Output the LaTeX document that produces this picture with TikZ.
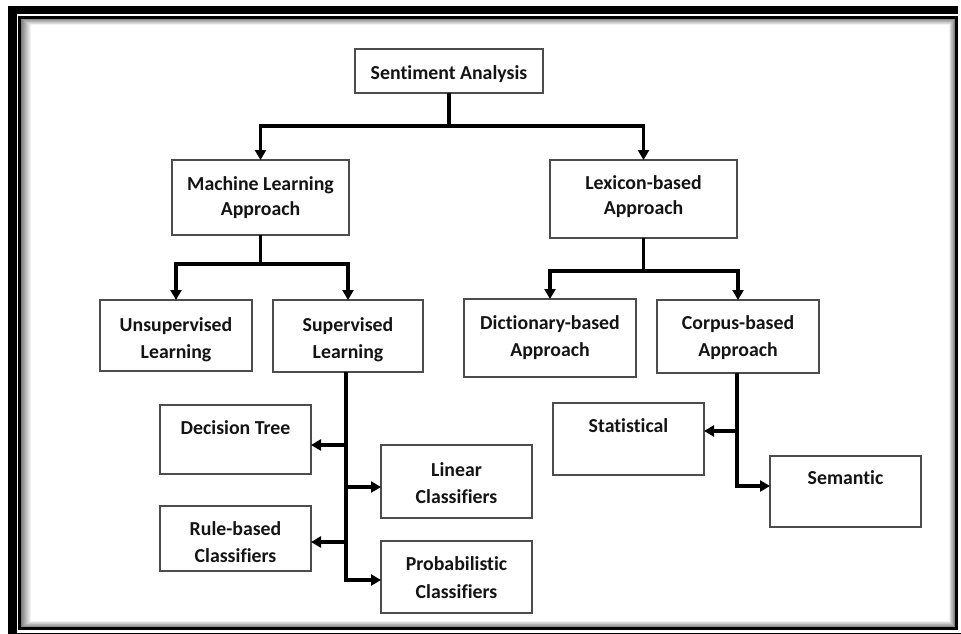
\documentclass[tikz,border=0pt]{standalone}
\usepackage{fontspec}
\setmainfont{Carlito}[Ligatures=NoCommon]
\usetikzlibrary{arrows.meta}
\begin{document}
\begin{tikzpicture}[x=1pt,y=-1pt,
  box/.style={draw=black!70, line width=1.5pt, fill=white, inner sep=0pt, outer sep=0pt},
  txt/.style={inner sep=0pt, anchor=base, text=black!92, font=\fontsize{19.8}{25}\selectfont\bfseries},
  conn/.style={line width=3.2pt, black, line join=miter},
  arr/.style={conn, -{Triangle[length=10pt,width=11pt]}}]
\useasboundingbox (0,0) rectangle (961,634);
% frame
\fill[white] (0,0) rectangle (961,634);
\fill[black] (8,6) rectangle (958,14);
\fill[black] (8,6) rectangle (17,634);
\fill[black] (8,632.5) rectangle (961,634);
\foreach \i in {1,...,12}{
  \pgfmathsetmacro{\g}{max(0,55-5*\i)}
  \draw[black!\g, line width=1.1pt] (21+\i,18+0.7*\i) rectangle (955-0.6*\i,628-0.7*\i);
}
\draw[black, line width=3pt] (19.5,17.5) rectangle (956.5,628.5);
\fill[black] (956,16) rectangle (958,630);
% boxes
\node[box, minimum width=188pt, minimum height=44pt] (sa) at (449,71) {};
\node[box, minimum width=177pt, minimum height=75pt] (ml) at (260.5,197.5) {};
\node[box, minimum width=187pt, minimum height=78pt] (lex) at (643.5,199) {};
\node[box, minimum width=152pt, minimum height=71pt] (uns) at (176,335.5) {};
\node[box, minimum width=150pt, minimum height=72pt] (sup) at (348,336) {};
\node[box, minimum width=172pt, minimum height=78pt] (dict) at (550,338) {};
\node[box, minimum width=162pt, minimum height=73pt] (corp) at (738,336.5) {};
\node[box, minimum width=151pt, minimum height=69pt] (dt) at (235.5,439.5) {};
\node[box, minimum width=151pt, minimum height=73pt] (lin) at (456.5,481.5) {};
\node[box, minimum width=151pt, minimum height=65pt] (rule) at (235.5,538.5) {};
\node[box, minimum width=151pt, minimum height=72pt] (prob) at (456.5,577) {};
\node[box, minimum width=151pt, minimum height=72pt] (stat) at (628.5,439) {};
\node[box, minimum width=151pt, minimum height=71pt] (sem) at (845.5,491.5) {};
% texts
\node[txt] (tsa) at (449,80) {Sentiment Analysis};
\node[txt] (tml) at (260.5,190) {\begin{tabular}[t]{@{}c@{}}Machine Learning\\Approach\end{tabular}};
\node[txt] (tlex) at (643.5,189) {\begin{tabular}[t]{@{}c@{}}Lexicon-based\\Approach\end{tabular}};
\node[txt] (tuns) at (176,331) {\begin{tabular}[t]{@{}c@{}}Unsupervised\\[2pt]Learning\end{tabular}};
\node[txt] (tsup) at (348,331) {\begin{tabular}[t]{@{}c@{}}Supervised\\[2pt]Learning\end{tabular}};
\node[txt] (tdict) at (550,329) {\begin{tabular}[t]{@{}c@{}}Dictionary-based\\[2pt]Approach\end{tabular}};
\node[txt] (tcorp) at (738,329) {\begin{tabular}[t]{@{}c@{}}Corpus-based\\[2pt]Approach\end{tabular}};
\node[txt] (tdt) at (235.5,434) {Decision Tree};
\node[txt] (tlin) at (456.5,476) {\begin{tabular}[t]{@{}c@{}}Linear\\[2pt]Classifiers\end{tabular}};
\node[txt] (trule) at (235.5,535) {\begin{tabular}[t]{@{}c@{}}Rule-based\\[2pt]Classifiers\end{tabular}};
\node[txt] (tprob) at (456.5,570) {\begin{tabular}[t]{@{}c@{}}Probabilistic\\[3pt]Classifiers\end{tabular}};
\node[txt] (tstat) at (628.5,432.5) {Statistical};
\node[txt] (tsem) at (845.5,484) {Semantic};
% connectors
\draw[conn] (sa.south) -- ++(0,33) coordinate (j0);
\draw[arr] (j0) -| (ml.north);
\draw[arr] (j0) -| (lex.north);
\draw[conn] (ml.south) -- ++(0,29) coordinate (j1);
\draw[arr] (j1) -| (uns.north);
\draw[arr] (j1) -| (sup.north);
\draw[conn] (lex.south) -- ++(0,33) coordinate (j2);
\draw[arr] (j2) -| (dict.north);
\draw[arr] (j2) -| (corp.north);
% supervised branches
\path ([xshift=-2pt]sup.south) coordinate (s0) ++(0,73) coordinate (s1) ++(0,42) coordinate (s2) ++(0,55) coordinate (s3) ++(0,38) coordinate (s4);
\draw[arr] (s0) -- (s4) -- (s4 -| prob.west);
\draw[arr] (s1) -- (s1 -| dt.east);
\draw[arr] (s2) -- (s2 -| lin.west);
\draw[arr] (s3) -- (s3 -| rule.east);
% corpus branches
\path ([xshift=-1pt]corp.south) coordinate (c0) ++(0,58) coordinate (c1) ++(0,55) coordinate (c2);
\draw[arr] (c0) -- (c2) -- (c2 -| sem.west);
\draw[arr] (c1) -- (c1 -| stat.east);
\end{tikzpicture}
\end{document}
